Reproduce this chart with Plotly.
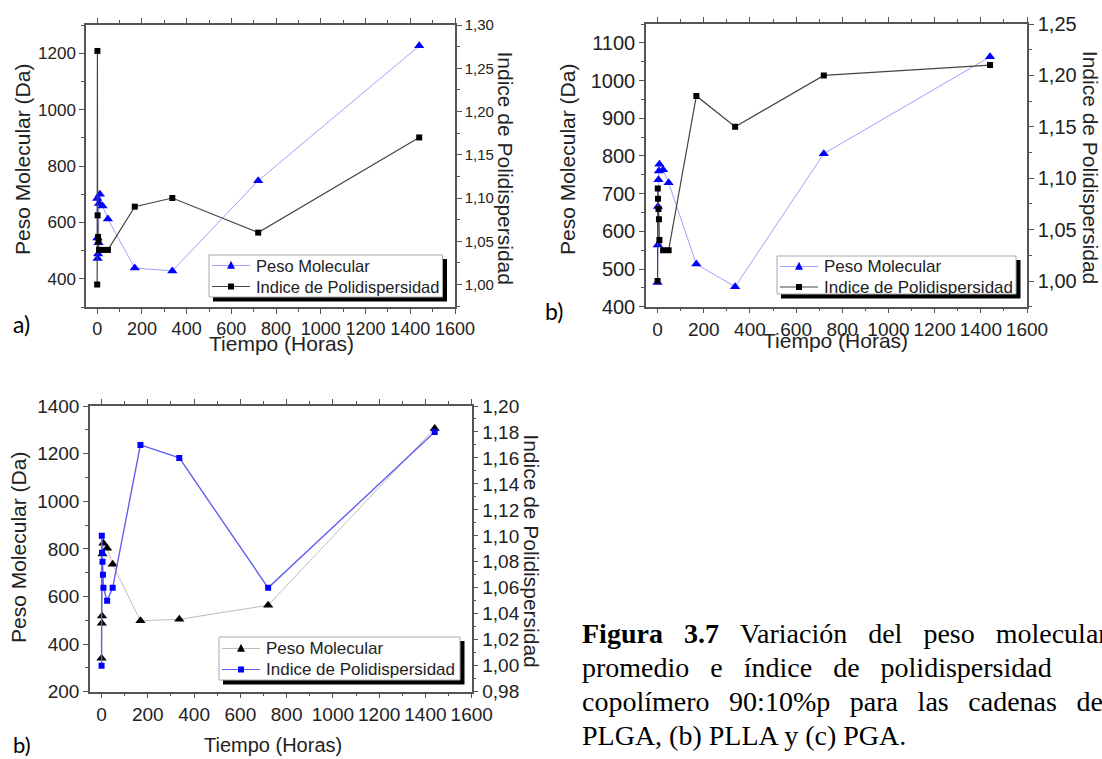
import plotly.graph_objects as go

W, H = 1102, 759

# ---------------- data ----------------
# (a) PLGA
t_a_pm = [0, 1, 2, 4, 6, 8, 12, 24, 48, 168, 336, 720, 1440]
pm_a = [685, 545, 472, 488, 528, 667, 700, 658, 612, 438, 428, 748, 1226]
t_a_pdi = [0, 1, 2, 4, 6, 8, 24, 48, 168, 336, 720, 1440]
pdi_a = [1.00, 1.27, 1.08, 1.055, 1.05, 1.04, 1.04, 1.04, 1.09, 1.10, 1.06, 1.17]

# (b) PLLA
t_b_pm = [0, 1, 2, 4, 6, 8, 24, 48, 168, 336, 720, 1440]
pm_b = [464, 564, 666, 737, 760, 778, 763, 729, 513, 453, 806, 1063]
t_b_pdi = [0, 1, 2, 4, 6, 8, 24, 48, 168, 336, 720, 1440]
pdi_b = [1.00, 1.09, 1.08, 1.07, 1.06, 1.04, 1.03, 1.03, 1.18, 1.15, 1.20, 1.21]

# (c) PGA
t_c_pm = [0, 1, 2, 4, 8, 24, 48, 168, 336, 720, 1440]
pm_c = [340, 487, 518, 778, 823, 802, 735, 498, 504, 563, 1306]
t_c_pdi = [0, 1, 2, 4, 6, 8, 24, 48, 168, 336, 720, 1440]
pdi_c = [1.00, 1.10, 1.087, 1.08, 1.07, 1.06, 1.05, 1.06, 1.17, 1.16, 1.06, 1.18]

x_ticks = [0, 200, 400, 600, 800, 1000, 1200, 1400, 1600]

name_pm = "Peso Molecular"
name_pdi = "Indice de Polidispersidad"
x_title = "Tiempo (Horas)"
y_title = "Peso Molecular (Da)"
y2_title = "Indice de Polidispersidad"

G = "\u00a0\u00a0\u00a0"
G3 = "\u00a0\u00a0\u2009"
caption = [
    "<b>Figura" + G + "3.7</b>" + G + "Variación" + G + "del" + G + "peso" + G + "molecular",
    "promedio" + G + "e" + G + "índice" + G + "de" + G + "polidispersidad",
    "copolímero" + G3 + "90:10%p" + G3 + "para" + G3 + "las" + G3 + "cadenas" + G3 + "de",
    "PLGA, (b) PLLA y (c) PGA.",
]


def px(x):
    return x / W


def py(y):
    return 1 - y / H


FONT = "Liberation Sans"
AX = "#555555"

fig = go.Figure()

# panel a
fig.add_trace(go.Scatter(x=t_a_pm, y=pm_a, xaxis="x", yaxis="y", mode="lines+markers", name=name_pm,
                         line=dict(color="#a0a0ff", width=1),
                         marker=dict(symbol="triangle-up", size=9, color="#0000ff")))
fig.add_trace(go.Scatter(x=t_a_pdi, y=pdi_a, xaxis="x", yaxis="y2", mode="lines+markers", name=name_pdi,
                         line=dict(color="#444444", width=1.2),
                         marker=dict(symbol="square", size=6, color="#000000")))
# panel b
fig.add_trace(go.Scatter(x=t_b_pm, y=pm_b, xaxis="x2", yaxis="y3", mode="lines+markers", name=name_pm,
                         line=dict(color="#a0a0ff", width=1),
                         marker=dict(symbol="triangle-up", size=9, color="#0000ff")))
fig.add_trace(go.Scatter(x=t_b_pdi, y=pdi_b, xaxis="x2", yaxis="y4", mode="lines+markers", name=name_pdi,
                         line=dict(color="#444444", width=1.2),
                         marker=dict(symbol="square", size=6, color="#000000")))
# panel c
fig.add_trace(go.Scatter(x=t_c_pm, y=pm_c, xaxis="x3", yaxis="y5", mode="lines+markers", name=name_pm,
                         line=dict(color="#bdbdbd", width=1),
                         marker=dict(symbol="triangle-up", size=9, color="#000000")))
fig.add_trace(go.Scatter(x=t_c_pdi, y=pdi_c, xaxis="x3", yaxis="y6", mode="lines+markers", name=name_pdi,
                         line=dict(color="#6060f0", width=1.4),
                         marker=dict(symbol="square", size=6, color="#0000ff")))


def xax(dom, anchor, size):
    return dict(domain=dom, anchor=anchor, range=[-50, 1600], tickvals=x_ticks, tickangle=0,
                automargin=False,
                showline=True, linecolor=AX, linewidth=1.5, mirror="ticks",
                ticks="outside", ticklen=5, tickcolor=AX, tickwidth=1.2,
                minor=dict(dtick=100, tick0=0, ticks="outside", ticklen=3, tickcolor=AX),
                showgrid=False, zeroline=False,
                tickfont=dict(family=FONT, size=size, color="#222"))


def yax(dom, anchor, rng, dtick, mdtick, size):
    return dict(domain=dom, anchor=anchor, range=rng, dtick=dtick, tick0=0, automargin=False,
                showline=True, linecolor=AX, linewidth=1.5, mirror=True,
                ticks="outside", ticklen=5, tickcolor=AX, tickwidth=1.2,
                minor=dict(dtick=mdtick, tick0=0, ticks="outside", ticklen=3, tickcolor=AX),
                showgrid=False, zeroline=False,
                tickfont=dict(family=FONT, size=size, color="#222"))


def y2ax(over, anchor, rng, dtick, mdtick, size):
    return dict(overlaying=over, anchor=anchor, side="right", range=rng, dtick=dtick, tick0=0,
                tickformat=".2f", automargin=False,
                showline=True, linecolor=AX, linewidth=1.5,
                ticks="outside", ticklen=5, tickcolor=AX, tickwidth=1.2,
                minor=dict(dtick=mdtick, tick0=0, ticks="outside", ticklen=3, tickcolor=AX),
                showgrid=False, zeroline=False,
                tickfont=dict(family=FONT, size=size, color="#222"))


dom_a_x = [px(86), px(455)]
dom_a_y = [py(307), py(25)]
dom_b_x = [px(646), px(1027)]
dom_b_y = [py(306.7), py(24)]
dom_c_x = [px(90), px(471.7)]
dom_c_y = [py(691.7), py(406)]

fig.update_layout(
    width=W, height=H, autosize=False,
    margin=dict(l=0, r=0, t=0, b=0),
    paper_bgcolor="white", plot_bgcolor="white",
    separators=",.",
    showlegend=False,
    xaxis=xax(dom_a_x, "y", 18),
    yaxis=yax(dom_a_y, "x", [300, 1300], 200, 100, 17),
    yaxis2=y2ax("y", "x", [0.974, 1.30], 0.05, 0.025, 15),
    xaxis2=xax(dom_b_x, "y3", 19),
    yaxis3=yax(dom_b_y, "x2", [400, 1150], 100, 50, 20),
    yaxis4=y2ax("y3", "x2", [0.975, 1.25], 0.05, 0.025, 20),
    xaxis3=xax(dom_c_x, "y5", 19),
    yaxis5=yax(dom_c_y, "x3", [200, 1400], 200, 100, 19),
    yaxis6=y2ax("y5", "x3", [0.98, 1.20], 0.02, 0.01, 19),
)

shapes = []
ann = []


def text(x, y, s, size, angle=0, family=FONT, xanchor="center", color="#222"):
    ann.append(dict(x=px(x), y=py(y), xref="paper", yref="paper", text=s, showarrow=False,
                    textangle=angle, xanchor=xanchor, yanchor="middle",
                    font=dict(family=family, size=size, color=color)))


def rect(x0, y0, x1, y1, fill, line_color=None, lw=0):
    shapes.append(dict(type="rect", xref="paper", yref="paper", x0=px(x0), x1=px(x1),
                       y0=py(y1), y1=py(y0), fillcolor=fill, layer="above",
                       line=dict(width=lw, color=line_color or fill)))


def legend_box(l, t, r, b, rows, fsize):
    rect(l + 4, t + 4, r + 4.5, b + 4.5, "black")
    rect(l, t, r, b, "white", "#aaaaaa", 1)
    for label, lcol, sym, mcol, yc in rows:
        shapes.append(dict(type="line", xref="paper", yref="paper", x0=px(l + 3), x1=px(l + 41),
                           y0=py(yc), y1=py(yc), layer="above", line=dict(color=lcol, width=1)))
        cx = l + 22
        if sym == "triangle":
            s = 8
            path = "M {:.5f} {:.5f} L {:.5f} {:.5f} L {:.5f} {:.5f} Z".format(
                px(cx), py(yc - 0.6 * s), px(cx - s / 2), py(yc + 0.4 * s), px(cx + s / 2), py(yc + 0.4 * s))
            shapes.append(dict(type="path", xref="paper", yref="paper", path=path, layer="above",
                               fillcolor=mcol, line=dict(width=0)))
        else:
            rect(cx - 3, yc - 3, cx + 3, yc + 3, mcol)
        text(l + 45, yc, label, fsize, xanchor="left")


legend_box(209, 255, 442.5, 297,
           [(name_pm, "#a0a0ff", "triangle", "#0000ff", 265.5),
            (name_pdi, "#444444", "square", "#000000", 286.5)], 16.5)
legend_box(777, 256, 1016, 294,
           [(name_pm, "#a0a0ff", "triangle", "#0000ff", 266.5),
            (name_pdi, "#444444", "square", "#000000", 287)], 17)
legend_box(219, 637, 460, 680,
           [(name_pm, "#bdbdbd", "triangle", "#000000", 648.5),
            (name_pdi, "#6060f0", "square", "#0000ff", 669.5)], 17)

# axis titles
text(23, 160, y_title, 21, -90)
text(505, 167.5, y2_title, 21, 90)
text(281.5, 343, x_title, 21)
text(568, 160, y_title, 21, -90)
text(1090.7, 167.5, y2_title, 21, 90)
text(835, 340.5, x_title, 21)
text(18, 548, y_title, 21, -90)
text(531.7, 551, y2_title, 21, 90)
text(273, 745, x_title, 20)

# panel letters
text(21, 324, "a)", 23, family="Lato", color="#000")
text(554, 311, "b)", 23, family="Lato", color="#000")
text(22, 744, "b)", 22, family="Lato", color="#000")

# caption
for s, yc in zip(caption, [633, 667, 701, 735]):
    ann.append(dict(x=px(580), y=py(yc), xref="paper", yref="paper", text=s, showarrow=False,
                    xanchor="left", yanchor="middle",
                    font=dict(family="Liberation Serif", size=28, color="#000")))

fig.update_layout(annotations=ann, shapes=shapes)
fig.write_html("out.html")
